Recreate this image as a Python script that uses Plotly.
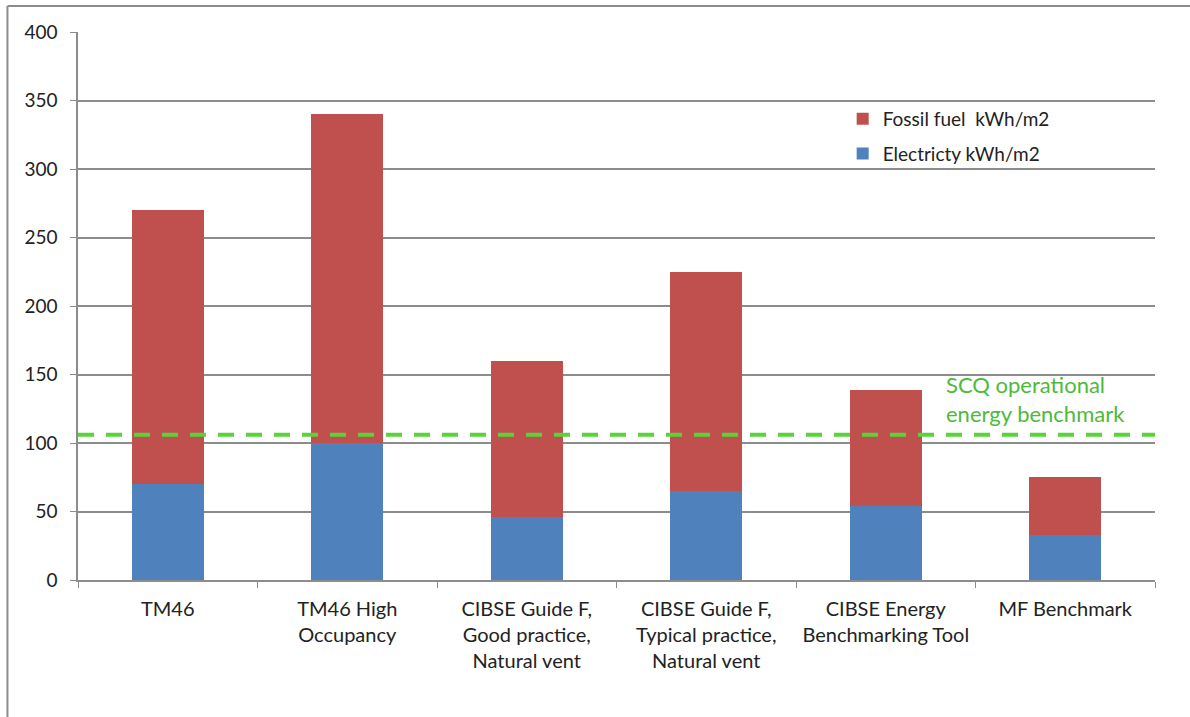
import plotly.graph_objects as go

categories = ["TM46", "TM46 High<br>Occupancy", "CIBSE Guide F,<br>Good practice,<br>Natural vent",
              "CIBSE Guide F,<br>Typical practice,<br>Natural vent", "CIBSE Energy<br>Benchmarking Tool",
              "MF Benchmark"]
electricity = [70, 100, 46, 65, 54, 33]
fossil_fuel = [200, 240, 114, 160, 85, 42]
benchmark = 106
benchmark_label = "SCQ operational<br>energy benchmark"

FONT = "Lato, 'Open Sans', sans-serif"

fig = go.Figure()
fig.add_trace(go.Bar(x=categories, y=electricity, name="Electricty kWh/m2", legendgroup="e",
                     legendrank=2, marker=dict(color="#4F81BD", line=dict(width=0))))
fig.add_trace(go.Bar(x=categories, y=fossil_fuel, name="Fossil fuel  kWh/m2", legendgroup="f",
                     legendrank=1, marker=dict(color="#C0504D", line=dict(width=0))))

fig.add_shape(type="line", xref="paper", yref="y", x0=0, x1=1, y0=benchmark, y1=benchmark,
              line=dict(color="#5AD23C", width=4, dash="16px,12px"), layer="above")
fig.add_annotation(x=0.804, xref="paper", y=benchmark + 4, yref="y", text=benchmark_label,
                   showarrow=False, xanchor="left", yanchor="bottom", align="left",
                   font=dict(family=FONT, size=22, color="#4DBA3A"))

# outer frame
fig.add_shape(type="line", xref="paper", yref="paper", x0=-0.0655, x1=-0.0655, y0=-0.3, y1=1.0475,
              line=dict(color="#8C8C8C", width=2))
fig.add_shape(type="line", xref="paper", yref="paper", x0=-0.0655, x1=1.1, y0=1.0475, y1=1.0475,
              line=dict(color="#8C8C8C", width=2))

fig.update_layout(
    width=1190, height=717,
    margin=dict(l=78, r=35, t=32, b=137),
    barmode="stack", bargap=0.6,
    plot_bgcolor="white", paper_bgcolor="white",
    font=dict(family=FONT, size=19, color="#222222"),
    legend=dict(x=0.71, y=0.876, xanchor="left", yanchor="top", traceorder="grouped",
                font=dict(family=FONT, size=19, color="#222222"), bgcolor="rgba(0,0,0,0)",
                itemsizing="constant", tracegroupgap=7),
    showlegend=True,
)
fig.update_yaxes(range=[0, 400], dtick=50, showgrid=True, gridcolor="#8C8C8C", gridwidth=1.5,
                 showline=True, linecolor="#8C8C8C", linewidth=1.5, ticks="outside", ticklen=6,
                 tickcolor="#8C8C8C", zeroline=False, tickfont=dict(size=19), ticklabelstandoff=9)
fig.update_xaxes(showline=True, linecolor="#8C8C8C", linewidth=1.5, ticks="outside", ticklen=6,
                 tickcolor="#8C8C8C", tickson="boundaries", tickfont=dict(size=20),
                 ticklabelstandoff=10)

fig.write_html("out.html")
